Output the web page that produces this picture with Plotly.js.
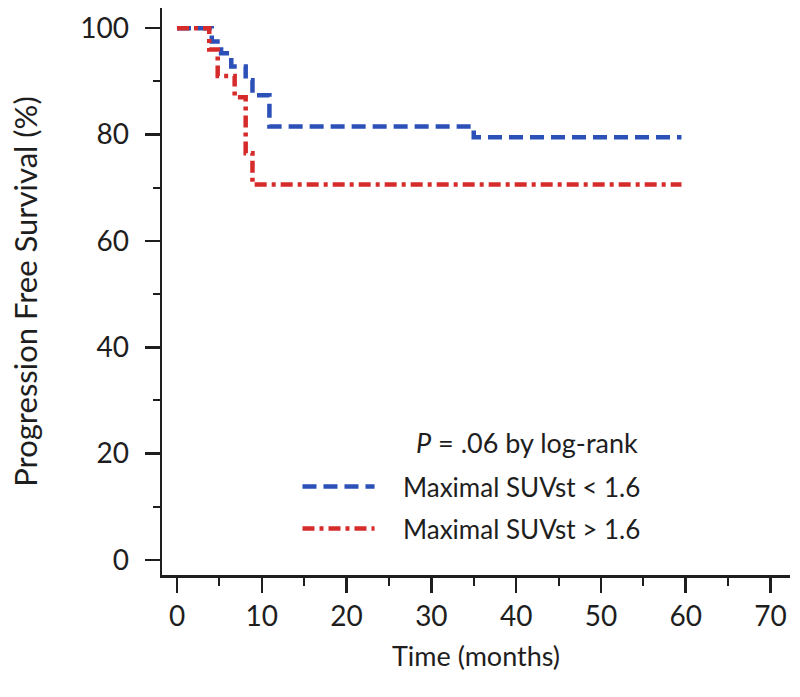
<!DOCTYPE html>
<html>
<head>
<meta charset="utf-8">
<script src="https://cdn.plot.ly/plotly-3.0.1.min.js"></script>
<style>
html,body{margin:0;padding:0;background:#fff;}
#chart{width:800px;height:697px;}
</style>
</head>
<body>
<div id="chart"></div>
<script>
// Kaplan-Meier step data
const seriesNames = ["Maximal SUVst < 1.6", "Maximal SUVst > 1.6"];
const lowTime = [0, 4.1, 5.2, 6.4, 8.1, 8.9, 10.9, 35.0, 59.5];
const lowSurv = [100, 97.5, 95.3, 92.8, 90.2, 87.4, 81.5, 79.5, 79.5];
const highTime = [0, 3.8, 4.8, 6.8, 8.1, 8.9, 59.5];
const highSurv = [100, 96.0, 91.0, 87.0, 76.5, 70.6, 70.6];
const pText = "<i>P</i> = .06 by log-rank";
const xTicks = [0, 10, 20, 30, 40, 50, 60, 70];
const yTicks = [0, 20, 40, 60, 80, 100];

const blue = "#2b50b8";
const red = "#d62b2b";
const FONT = "Lato, sans-serif";
const ink = "#1e1e1e";

const traces = [
  {x: lowTime, y: lowSurv, mode: "lines", line: {shape: "hv", color: blue, width: 4.5, dash: "14px,7px"}, name: seriesNames[0], showlegend: false},
  {x: highTime, y: highSurv, mode: "lines", line: {shape: "hv", color: red, width: 4.5, dash: "12px,5px,4px,5px"}, name: seriesNames[1], showlegend: false}
];

const layout = {
  width: 800, height: 697,
  margin: {l: 162, r: 10, t: 8, b: 122},
  paper_bgcolor: "#fff", plot_bgcolor: "#fff",
  font: {family: FONT, color: ink},
  showlegend: false,
  xaxis: {
    range: [-1.77, 72.3], tickvals: xTicks, ticktext: xTicks.map(String),
    showgrid: false, zeroline: false, showline: true, linecolor: ink, linewidth: 2.5,
    ticks: "outside", ticklen: 15, tickwidth: 2.5, tickcolor: ink,
    minor: {dtick: 5, tick0: 5, ticks: "outside", ticklen: 8, tickwidth: 2, tickcolor: ink},
    tickfont: {size: 28, family: FONT, color: ink},
    title: {text: "Time (months)", font: {size: 27, family: FONT, color: ink}, standoff: 16},
    fixedrange: true
  },
  yaxis: {
    range: [-2.83, 103.8], tickvals: yTicks, ticktext: yTicks.map(String),
    showgrid: false, zeroline: false, showline: true, linecolor: ink, linewidth: 2.5,
    ticks: "outside", ticklen: 15, tickwidth: 2.5, tickcolor: ink,
    minor: {dtick: 10, tick0: 10, ticks: "outside", ticklen: 7, tickwidth: 2, tickcolor: ink},
    tickfont: {size: 28, family: FONT, color: ink},
    ticklabelstandoff: 10,
    title: {text: "Progression Free Survival (%)", font: {size: 31, family: FONT, color: ink}, standoff: 34},
    fixedrange: true
  },
  annotations: [
    {xref: "x", yref: "y", x: 54.6, y: 22.1, text: pText, showarrow: false, xanchor: "right", yanchor: "middle", font: {size: 27, family: FONT, color: ink}},
    {xref: "x", yref: "y", x: 26.4, y: 13.8, text: seriesNames[0], showarrow: false, xanchor: "left", yanchor: "middle", font: {size: 26, family: FONT, color: ink}},
    {xref: "x", yref: "y", x: 26.4, y: 5.9, text: seriesNames[1], showarrow: false, xanchor: "left", yanchor: "middle", font: {size: 26, family: FONT, color: ink}}
  ],
  shapes: [
    {type: "line", xref: "x", yref: "y", x0: 14.8, x1: 23.3, y0: 13.8, y1: 13.8, line: {color: blue, width: 4.5, dash: "14px,7px"}},
    {type: "line", xref: "x", yref: "y", x0: 14.8, x1: 23.3, y0: 5.9, y1: 5.9, line: {color: red, width: 4.5, dash: "12px,5px,4px,5px"}}
  ]
};

Plotly.newPlot("chart", traces, layout, {displayModeBar: false, staticPlot: true});
</script>
</body>
</html>
